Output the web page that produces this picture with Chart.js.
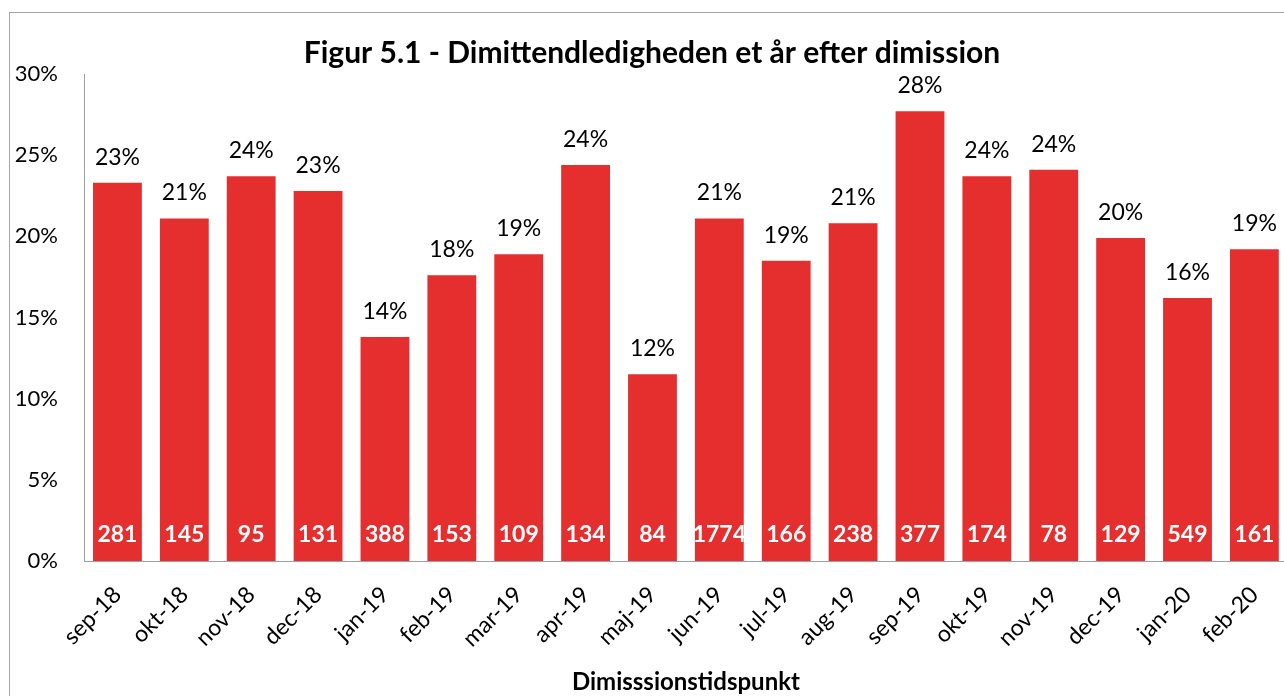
<!DOCTYPE html>
<html><head><meta charset="utf-8">
<script src="https://cdn.jsdelivr.net/npm/chart.js"></script>
<style>
html,body{margin:0;padding:0;overflow:hidden;background:#fff;width:1284px;height:696px;}
#wrap{position:absolute;left:9px;top:12px;width:1300px;height:720px;border:1px solid #a6a6a6;box-sizing:border-box;background:#fff;}
canvas{display:block;}
</style></head><body>
<div id="wrap"><canvas id="c" style="width:1284px;height:686px" width="1284" height="686"></canvas></div>
<script>
const categories = ["sep-18","okt-18","nov-18","dec-18","jan-19","feb-19","mar-19","apr-19","maj-19","jun-19","jul-19","aug-19","sep-19","okt-19","nov-19","dec-19","jan-20","feb-20"];
const ledighed = [23.3,21.1,23.7,22.8,13.8,17.6,18.9,24.4,11.5,21.1,18.5,20.8,27.7,23.7,24.1,19.9,16.2,19.2];
const antal = [281,145,95,131,388,153,109,134,84,1774,166,238,377,174,78,129,549,161];
const yTicks = [0,5,10,15,20,25,30];

const FONT = "Lato, 'Open Sans', sans-serif";

const labelPlugin = {
  id: 'barLabels',
  afterDatasetsDraw(chart) {
    const ctx = chart.ctx;
    const meta = chart.getDatasetMeta(0);
    const y0 = chart.scales.y.getPixelForValue(0);
    ctx.save();
    ctx.textAlign = 'center';
    ctx.textBaseline = 'alphabetic';
    meta.data.forEach((bar, i) => {
      ctx.fillStyle = '#000';
      ctx.font = "23px " + FONT;
      ctx.fillText(Math.round(ledighed[i]) + '%', bar.x, bar.y - 18);
      ctx.fillStyle = '#fff';
      ctx.font = "bold 23px " + FONT;
      ctx.fillText(String(antal[i]), bar.x, y0 - 19);
    });
    ctx.restore();
  }
};

new Chart(document.getElementById('c'), {
  type: 'bar',
  data: {
    labels: categories,
    datasets: [{
      data: ledighed,
      backgroundColor: '#E52E2E',
      borderWidth: 0,
      barPercentage: 1,
      categoryPercentage: 0.73
    }]
  },
  plugins: [labelPlugin],
  options: {
    responsive: false,
    animation: false,
    layout: { padding: { left: 4, right: 4, top: 0, bottom: 0 } },
    plugins: {
      legend: { display: false },
      tooltip: { enabled: false },
      title: {
        display: true,
        text: 'Figur 5.1 - Dimittendledigheden et år efter dimission',
        color: '#000',
        font: { family: FONT, size: 30, weight: 'bold' },
        padding: { top: 22, bottom: 3 }
      }
    },
    scales: {
      x: {
        grid: { display: false, drawTicks: false },
        border: { display: true, color: '#a0a0a0', width: 1 },
        ticks: { color: '#000', font: { family: FONT, size: 23 }, minRotation: 45, maxRotation: 45, padding: 20 },
        title: { display: true, text: 'Dimisssionstidspunkt', color: '#000', font: { family: FONT, size: 24, weight: 'bold' }, padding: { top: 0, bottom: 2 } },
        afterFit(scale) { scale.height = 138; }
      },
      y: {
        min: 0, max: 30,
        grid: { display: false, drawTicks: false },
        border: { display: true, color: '#a0a0a0', width: 1 },
        afterBuildTicks(scale) { scale.ticks = yTicks.map(v => ({ value: v })); },
        ticks: { color: '#000', font: { family: FONT, size: 22 }, padding: 26, callback: v => v + '%' },
        afterFit(scale) { scale.width = 70; }
      }
    }
  }
});
</script>
</body></html>
